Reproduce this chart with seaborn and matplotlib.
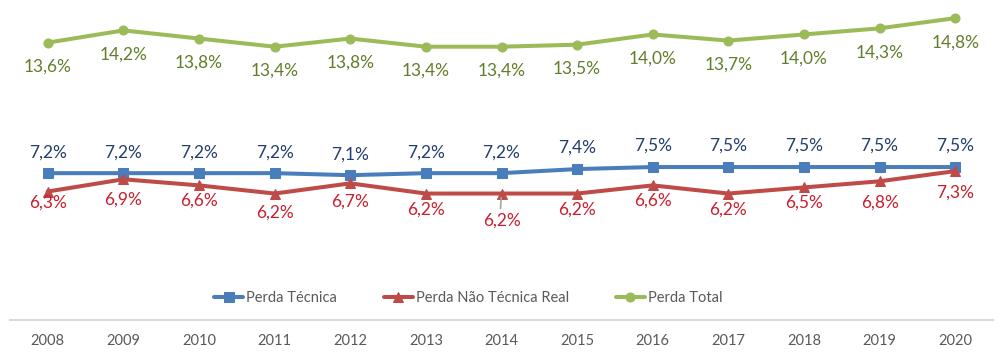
import numpy as np
import pandas as pd
import matplotlib
matplotlib.use("Agg")
import matplotlib.pyplot as plt
import seaborn as sns

# data
anos = [2008, 2009, 2010, 2011, 2012, 2013, 2014, 2015, 2016, 2017, 2018, 2019, 2020]
perda_tecnica = [7.2, 7.2, 7.2, 7.2, 7.1, 7.2, 7.2, 7.4, 7.5, 7.5, 7.5, 7.5, 7.5]
perda_nao_tecnica = [6.3, 6.9, 6.6, 6.2, 6.7, 6.2, 6.2, 6.2, 6.6, 6.2, 6.5, 6.8, 7.3]
perda_total = [13.6, 14.2, 13.8, 13.4, 13.8, 13.4, 13.4, 13.5, 14.0, 13.7, 14.0, 14.3, 14.8]

df = pd.DataFrame({
    'Ano': anos,
    'Perda Técnica': perda_tecnica,
    'Perda Não Técnica Real': perda_nao_tecnica,
    'Perda Total': perda_total,
})

sns.set_style('white')
plt.rcParams['font.family'] = ['Lato', 'DejaVu Sans']

fig = plt.figure(figsize=(10, 3.57), dpi=100)
ax = fig.add_axes([0.010, 37 / 357, 0.983, 320 / 357])

# series styles: (line colour, marker, marker size, label colour, label offset in px)
series = [
    ('Perda Técnica', '#4A7EBB', 's', 6.5, '#243F6E', 21),
    ('Perda Não Técnica Real', '#BE4B48', '^', 6.5, '#C8202E', -16),
    ('Perda Total', '#9BBB59', 'o', 6.5, '#627D2C', -24),
]
# small per-label nudges for the red labels (Excel placed them a bit unevenly)
red_offsets = [-11, -20, -15, -19, -18, -16, -27, -16, -15, -16, -15, -21, -22]

for nome, cor, mk, ms, cor_txt, off in series:
    sns.lineplot(data=df, x='Ano', y=nome, color=cor, marker=mk, markersize=ms,
                 markeredgecolor=cor, linewidth=2.9, label=nome, ax=ax)
    for i, (x, v) in enumerate(zip(df['Ano'], df[nome])):
        dy = red_offsets[i] if nome == 'Perda Não Técnica Real' else off
        ax.annotate(f"{v:.1f}".replace('.', ',') + '%', (x, v),
                    xytext=(0, dy), textcoords='offset pixels',
                    ha='center', va='center', fontsize=12.5, color=cor_txt)

# leader line for the displaced 2014 label
ax.annotate('', xy=(2014, 6.2), xytext=(-1, -15), textcoords='offset pixels',
            arrowprops=dict(arrowstyle='-', color='#A6A6A6', lw=1.2,
                            shrinkA=0, shrinkB=3))

ax.set_xlim(2007.5, 2020.5)
ax.set_ylim(0, 15.69)
ax.set_xticks(anos)
ax.set_xticklabels([str(a) for a in anos], fontsize=10.5, color='#595959')
ax.tick_params(axis='x', length=0, pad=10)
ax.set_yticks([])
ax.set_xlabel('')
ax.set_ylabel('')
for s in ['top', 'left', 'right']:
    ax.spines[s].set_visible(False)
ax.spines['bottom'].set_color('#D9D9D9')
ax.spines['bottom'].set_linewidth(1.5)

ax.legend(loc='center', bbox_to_anchor=(0.466, 0.069), ncol=3, frameon=False,
          fontsize=10.5, handlelength=2.0, handletextpad=0.2, columnspacing=3.2,
          labelcolor='#595959')

fig.savefig('out.png', dpi=100)
